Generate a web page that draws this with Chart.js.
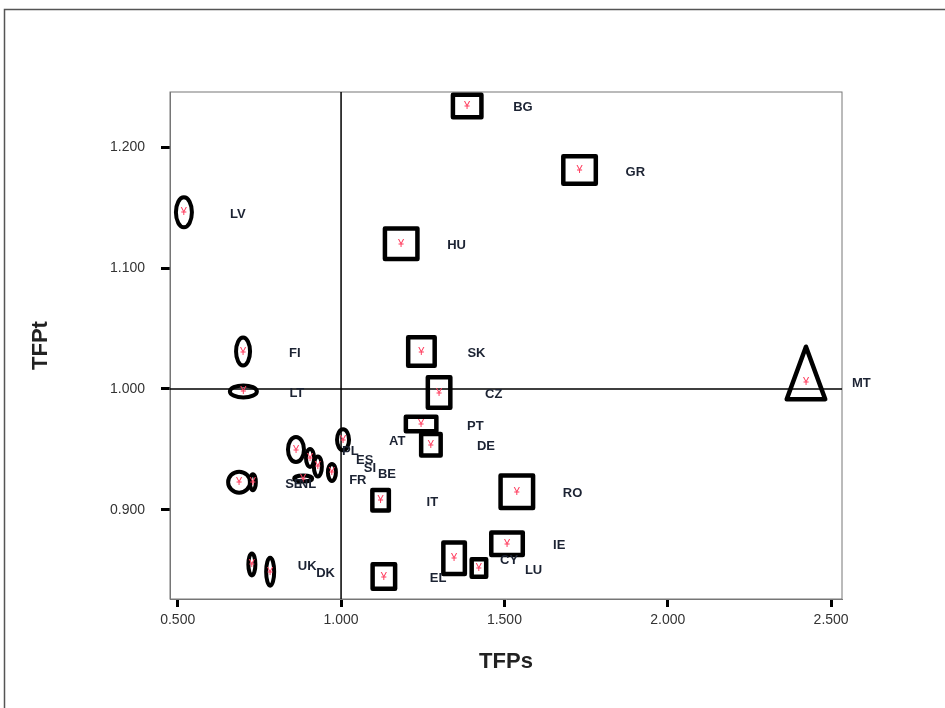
<!DOCTYPE html>
<html>
<head>
<meta charset="utf-8">
<script src="https://cdn.jsdelivr.net/npm/chart.js@4.4.1/dist/chart.umd.min.js"></script>
<style>
  html, body { margin: 0; padding: 0; background: #fff; }
  canvas { display: block; }
</style>
</head>
<body>
<canvas id="tfpChart" width="945" height="708"></canvas>
<script>
// country codes and their TFP components
const countries = ['LV', 'BG', 'GR', 'HU', 'FI', 'LT', 'SK', 'CZ', 'PT', 'DE', 'AT', 'PL', 'ES', 'SI',
                   'BE', 'FR', 'SE', 'NL', 'IT', 'RO', 'MT', 'IE', 'CY', 'LU', 'EL', 'UK', 'DK'];
const tfps = [0.519, 1.386, 1.730, 1.184, 0.700, 0.701, 1.246, 1.300, 1.245, 1.275, 1.006, 0.862, 0.905, 0.929,
              0.972, 0.884, 0.688, 0.730, 1.121, 1.538, 2.423, 1.508, 1.346, 1.422, 1.131, 0.727, 0.783];
const tfpt = [1.146, 1.234, 1.181, 1.120, 1.031, 0.998, 1.031, 0.997, 0.971, 0.954, 0.958, 0.950, 0.943, 0.936,
              0.931, 0.926, 0.923, 0.923, 0.908, 0.915, 1.006, 0.872, 0.860, 0.852, 0.845, 0.855, 0.849];
// cluster membership (drawn as ellipse / box / triangle)
const clusters = ['E', 'R', 'R', 'R', 'E', 'E', 'R', 'R', 'R', 'R', 'E', 'E', 'E', 'E',
                  'E', 'E', 'E', 'E', 'R', 'R', 'T', 'R', 'R', 'R', 'R', 'E', 'E'];

const xTicks = [0.5, 1.0, 1.5, 2.0, 2.5];
const yTicks = [0.9, 1.0, 1.1, 1.2];
const refX = 1.0;
const refY = 1.0;

// outline size of each marker, px
const markerW = [20, 33, 37, 37, 18, 31, 31, 27, 35, 24, 16, 20, 12, 12, 12, 22, 26, 10, 21, 37, 43, 36, 26, 19, 27, 11, 12];
const markerH = [34, 27, 32, 35, 32, 16, 33, 35, 19, 26, 25, 29, 22, 24, 21, 10, 25, 20, 25, 37, 57, 27, 36, 22, 29, 26, 32];

const FONT = '"Liberation Sans", Arial, sans-serif';

const markersPlugin = {
    id: 'markers',
    beforeDraw(chart) {
        const ctx = chart.ctx;
        ctx.save();
        ctx.fillStyle = '#fff';
        ctx.fillRect(0, 0, chart.width, chart.height);
        ctx.strokeStyle = '#555';
        ctx.lineWidth = 1.5;
        ctx.strokeRect(4.5, 9.5, chart.width + 20, chart.height + 20);
        ctx.restore();
    },
    beforeDatasetsDraw(chart) {
        const { ctx, chartArea: a, scales: { x, y } } = chart;
        ctx.save();
        ctx.strokeStyle = '#777';
        ctx.lineWidth = 1;
        ctx.strokeRect(a.left, a.top, a.right - a.left, a.bottom - a.top);
        // reference lines at 1.000
        const px = x.getPixelForValue(refX);
        const py = y.getPixelForValue(refY);
        ctx.strokeStyle = '#000';
        ctx.lineWidth = 1.5;
        ctx.beginPath();
        ctx.moveTo(px, a.top); ctx.lineTo(px, a.bottom);
        ctx.moveTo(a.left, py); ctx.lineTo(a.right, py);
        ctx.stroke();
        ctx.restore();
    },
    afterDatasetsDraw(chart) {
        const ctx = chart.ctx;
        const pts = chart.getDatasetMeta(0).data;
        ctx.save();
        ctx.strokeStyle = '#000';
        ctx.lineJoin = 'round';
        pts.forEach((p, i) => {
            const lw = clusters[i] === 'E' ? 4 : 4.5;
            const w = markerW[i] - lw, h = markerH[i] - lw;
            ctx.lineWidth = lw;
            ctx.beginPath();
            if (clusters[i] === 'E') {
                ctx.ellipse(p.x, p.y, w / 2, h / 2, 0, 0, Math.PI * 2);
            } else if (clusters[i] === 'R') {
                ctx.rect(p.x - w / 2, p.y - h / 2, w, h);
            } else {
                ctx.moveTo(p.x, p.y - h * 2 / 3);
                ctx.lineTo(p.x + w / 2, p.y + h / 3);
                ctx.lineTo(p.x - w / 2, p.y + h / 3);
                ctx.closePath();
            }
            ctx.stroke();
        });
        // small red point symbol
        ctx.fillStyle = '#ff3d5e';
        ctx.font = '11px ' + FONT;
        ctx.textAlign = 'center';
        ctx.textBaseline = 'middle';
        pts.forEach(p => ctx.fillText('¥', p.x, p.y));
        // country labels
        ctx.fillStyle = '#1c2333';
        ctx.font = 'bold 13px ' + FONT;
        ctx.textAlign = 'left';
        pts.forEach((p, i) => ctx.fillText(countries[i], p.x + 46, p.y + 2));
        ctx.restore();
    }
};

new Chart(document.getElementById('tfpChart'), {
    type: 'scatter',
    data: {
        datasets: [{
            data: countries.map((c, i) => ({ x: tfps[i], y: tfpt[i] })),
            pointRadius: 0,
            pointHoverRadius: 0
        }]
    },
    options: {
        responsive: false,
        animation: false,
        devicePixelRatio: 1,
        layout: { padding: { top: 92, right: 103, left: 0, bottom: 0 } },
        plugins: { legend: { display: false }, tooltip: { enabled: false } },
        scales: {
            x: {
                type: 'linear',
                min: 0.4764,
                max: 2.5333,
                afterFit: s => { s.height = 109; },
                afterBuildTicks: s => { s.ticks = xTicks.map(v => ({ value: v })); },
                grid: { drawOnChartArea: false, drawTicks: true, tickLength: 8, tickWidth: 3, tickColor: '#000' },
                border: { display: true, color: '#777', width: 1 },
                ticks: { callback: v => v.toFixed(3), font: { family: FONT, size: 14 }, color: '#333',
                         padding: 5, maxRotation: 0, autoSkip: false },
                title: { display: true, text: 'TFPs', color: '#222',
                         font: { family: FONT, size: 22, weight: 'bold' }, padding: { top: 0, bottom: 33 } }
            },
            y: {
                type: 'linear',
                min: 0.8264,
                max: 1.2455,
                afterFit: s => { s.width = 170; },
                afterBuildTicks: s => { s.ticks = yTicks.map(v => ({ value: v })); },
                grid: { drawOnChartArea: false, drawTicks: true, tickLength: 9, tickWidth: 3, tickColor: '#000' },
                border: { display: true, color: '#777', width: 1 },
                ticks: { callback: v => v.toFixed(3), font: { family: FONT, size: 14 }, color: '#333',
                         padding: 16, autoSkip: false },
                title: { display: true, text: 'TFPt', color: '#222',
                         font: { family: FONT, size: 22, weight: 'bold' }, padding: { top: 28, bottom: 0 } }
            }
        }
    },
    plugins: [markersPlugin]
});
</script>
</body>
</html>
